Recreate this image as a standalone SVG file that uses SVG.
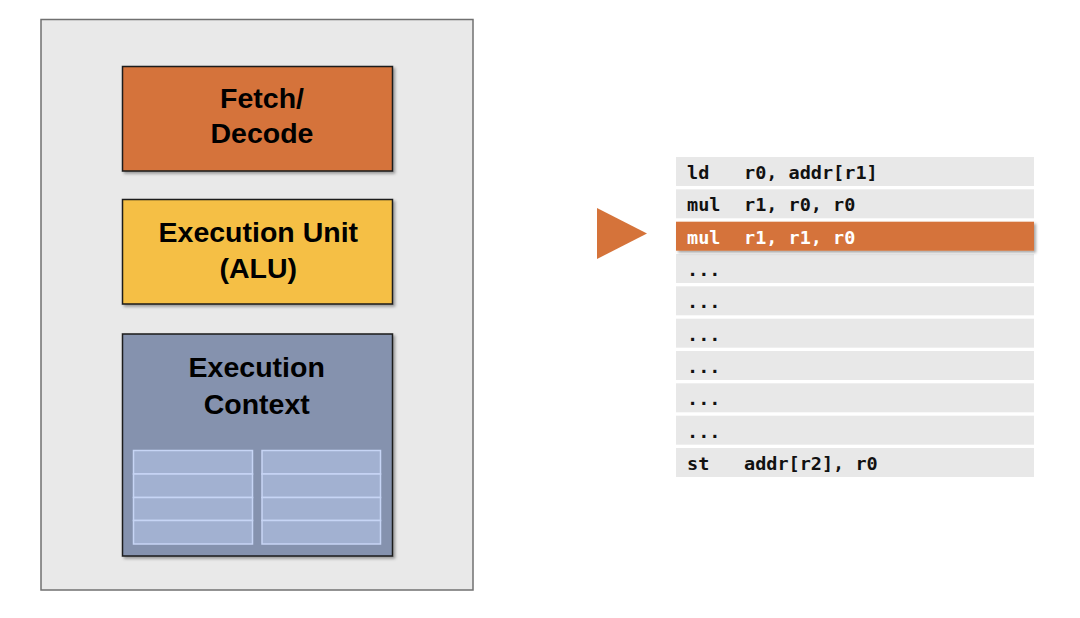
<svg xmlns="http://www.w3.org/2000/svg" width="1080" height="618" viewBox="0 0 1080 618">
<defs>
<filter id="sh" x="-10%" y="-10%" width="130%" height="130%">
<feDropShadow dx="2" dy="2" stdDeviation="1.5" flood-color="#000" flood-opacity="0.35"/>
</filter>
<style>
.blk{stroke:#1a1a1a;stroke-width:1.5;filter:url(#sh)}
.ttl{font-family:"Liberation Sans",Arial,sans-serif;font-weight:bold;font-size:28.5px;fill:#000;text-anchor:middle}
.reg{fill:#a2b1d1;stroke:#c7d5f5;stroke-width:1.5}
.row{fill:#e8e8e8}
.code{font-family:"DejaVu Sans Mono","Liberation Mono",monospace;font-weight:bold;font-size:18.5px;fill:#111}
</style>
</defs>
<rect width="1080" height="618" fill="#fff"/>
<g id="core">
<rect x="41" y="19.5" width="432" height="570.5" fill="#e9e9e9" stroke="#707070" stroke-width="1.5"/>
</g>
<g id="fetch">
<rect class="blk" x="122.5" y="66.5" width="270" height="104.5" fill="#d5733a"/>
<text class="ttl" x="262" y="107.5">Fetch/</text>
<text class="ttl" x="262" y="143.3">Decode</text>
</g>
<g id="alu">
<rect class="blk" x="122.5" y="199.5" width="270" height="104.5" fill="#f5bf45"/>
<text class="ttl" x="258.3" y="241.5">Execution Unit</text>
<text class="ttl" x="258.3" y="277.8">(ALU)</text>
</g>
<g id="context">
<rect class="blk" x="122.5" y="334" width="270" height="222" fill="#8592ae"/>
<text class="ttl" x="256.7" y="377.3">Execution</text>
<text class="ttl" x="256.7" y="414">Context</text>
<rect class="reg" x="133.5" y="450.5" width="119" height="23.5"/>
<rect class="reg" x="133.5" y="474" width="119" height="23.5"/>
<rect class="reg" x="133.5" y="497.5" width="119" height="23"/>
<rect class="reg" x="133.5" y="520.5" width="119" height="23.5"/>
<rect class="reg" x="262" y="450.5" width="118.5" height="23.5"/>
<rect class="reg" x="262" y="474" width="118.5" height="23.5"/>
<rect class="reg" x="262" y="497.5" width="118.5" height="23"/>
<rect class="reg" x="262" y="520.5" width="118.5" height="23.5"/>
</g>
<g id="connectors">
<polygon id="pc-arrow" points="597,208 597,259 647,233.5" fill="#d5733a"/>
</g>
<g id="program">
<rect class="row" x="676" y="157" width="358" height="29"/>
<rect class="row" x="676" y="189.3" width="358" height="29"/>
<rect class="row" x="676" y="254" width="358" height="29"/>
<rect class="row" x="676" y="286.3" width="358" height="29"/>
<rect class="row" x="676" y="318.7" width="358" height="29"/>
<rect class="row" x="676" y="351" width="358" height="29"/>
<rect class="row" x="676" y="383.3" width="358" height="29"/>
<rect class="row" x="676" y="415.7" width="358" height="29"/>
<rect class="row" x="676" y="448" width="358" height="29"/>
<rect x="676" y="221.7" width="358" height="29" fill="#d5733a" filter="url(#sh)"/>
<text class="code" x="687" y="179">ld</text><text class="code" x="744" y="179">r0, addr[r1]</text>
<text class="code" x="687" y="211.3">mul</text><text class="code" x="744" y="211.3">r1, r0, r0</text>
<text class="code" x="687" y="243.7" fill="#fff" style="fill:#fff">mul</text><text class="code" x="744" y="243.7" style="fill:#fff">r1, r1, r0</text>
<text class="code" x="687" y="276">...</text>
<text class="code" x="687" y="308.3">...</text>
<text class="code" x="687" y="340.7">...</text>
<text class="code" x="687" y="373">...</text>
<text class="code" x="687" y="405.3">...</text>
<text class="code" x="687" y="437.7">...</text>
<text class="code" x="687" y="470">st</text><text class="code" x="744" y="470">addr[r2], r0</text>
</g>
</svg>
